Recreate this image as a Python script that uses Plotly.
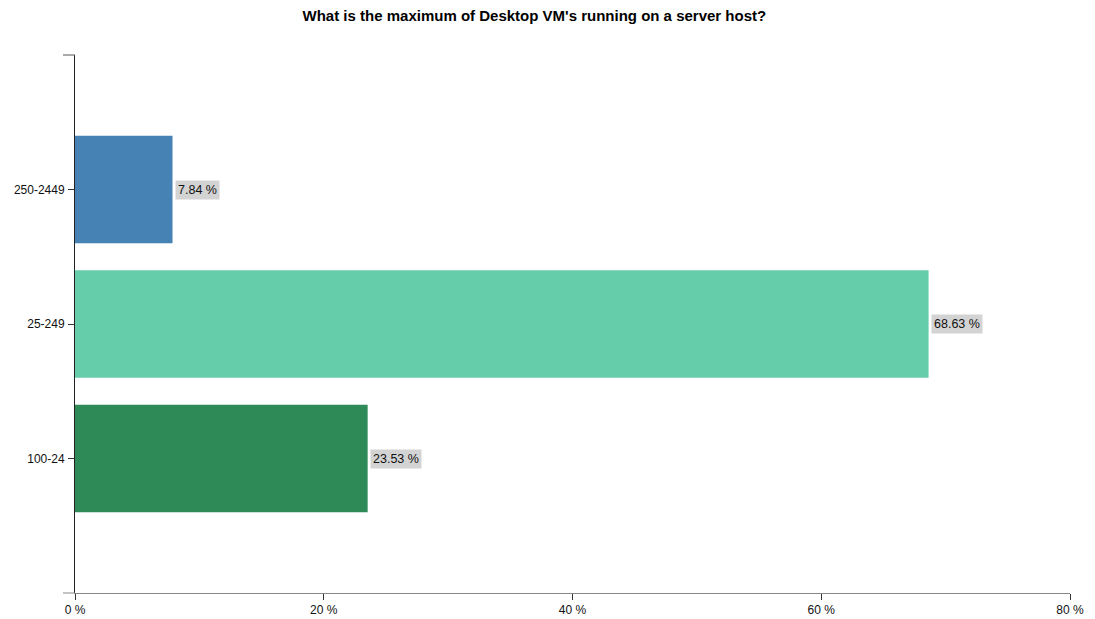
import plotly.graph_objects as go

categories = ["100-24", "25-249", "250-2449"]
values = [23.53, 68.63, 7.84]
colors = ["#2e8b57", "#66cdaa", "#4682b4"]
x_ticks = [0, 20, 40, 60, 80]
x_tick_labels = [f"{t} %" for t in x_ticks]

FONT = "Liberation Sans, Arial, sans-serif"

fig = go.Figure()
fig.add_trace(go.Bar(
    y=categories,
    x=values,
    orientation="h",
    width=0.8,
    marker=dict(color=colors, line=dict(width=0)),
    hoverinfo="x+y",
))

for cat, val in zip(categories, values):
    fig.add_annotation(
        x=val, y=cat, xref="x", yref="y",
        text=f"{val:.2f} %",
        showarrow=False,
        xanchor="left", yanchor="middle",
        xshift=2,
        bgcolor="#d3d3d3",
        borderpad=2,
        font=dict(family=FONT, size=12.5, color="#111"),
    )

# outer ticks at the ends of the axis domains
fig.add_shape(type="line", xref="paper", yref="paper", xsizemode="pixel", xanchor=0,
              x0=-12, x1=0, y0=1, y1=1, line=dict(color="#555", width=1))
fig.add_shape(type="line", xref="paper", yref="paper", xsizemode="pixel", xanchor=0,
              x0=-12, x1=0, y0=0, y1=0, line=dict(color="#888", width=1))

fig.update_layout(
    width=1095, height=619,
    margin=dict(l=75, r=25, t=55, b=26, autoexpand=False),
    plot_bgcolor="white", paper_bgcolor="white",
    showlegend=False,
    title=dict(
        text="<b>What is the maximum of Desktop VM's running on a server host?</b>",
        x=0.488, xanchor="center", y=0.975, yanchor="middle",
        font=dict(family=FONT, size=15, color="#000"),
    ),
    font=dict(family=FONT, size=12, color="#111"),
    xaxis=dict(
        range=[0, 80], tickvals=x_ticks, ticktext=x_tick_labels,
        showgrid=False, zeroline=False, automargin=False,
        showline=True, linecolor="#888", linewidth=1,
        ticks="outside", ticklen=6, tickcolor="#333", tickwidth=1,
        tickfont=dict(family=FONT, size=12, color="#111"), fixedrange=True,
    ),
    yaxis=dict(
        type="category", categoryorder="array", categoryarray=categories,
        range=[-1, 3], automargin=False,
        showgrid=False, zeroline=False,
        showline=True, linecolor="#222", linewidth=1,
        ticks="outside", ticklen=6, tickcolor="#333", tickwidth=1,
        tickfont=dict(family=FONT, size=12, color="#111"), ticklabelstandoff=1,
        fixedrange=True,
    ),
)

fig.write_html("out.html")
